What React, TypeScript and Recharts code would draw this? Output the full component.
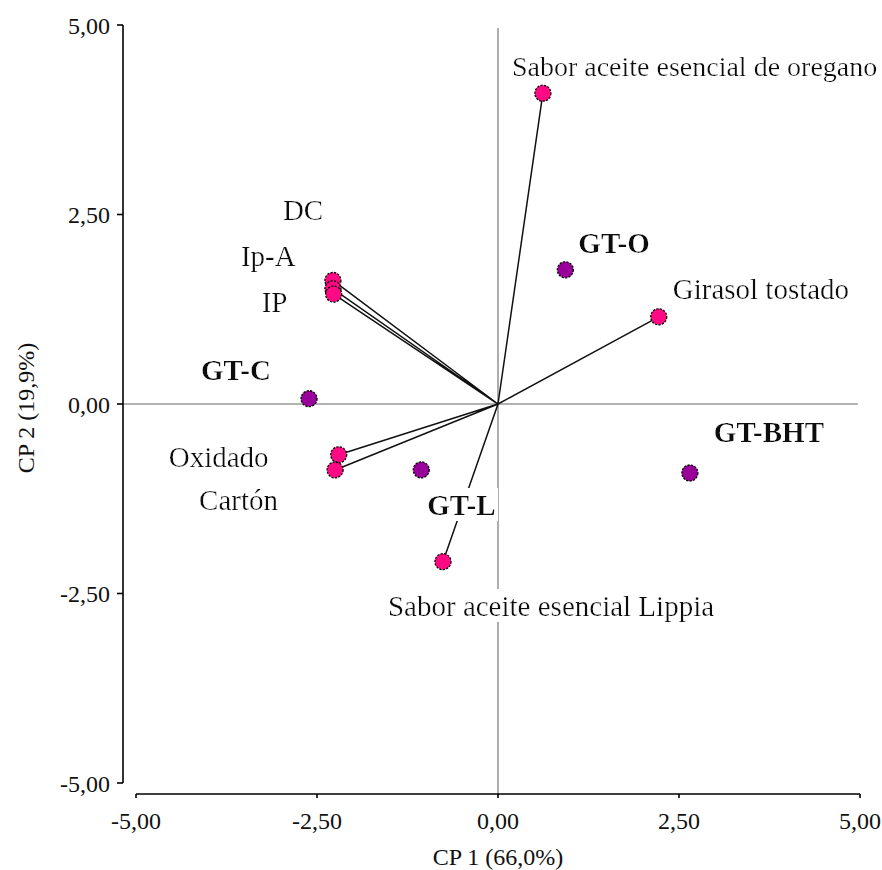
import React from 'react';
import { ScatterChart, Scatter, XAxis, YAxis, ReferenceLine, LabelList, Label } from 'recharts';

// Variables (vectors from the origin)
const variableNames = [
  'Sabor aceite esencial de oregano',
  'DC',
  'Ip-A',
  'IP',
  'Girasol tostado',
  'Oxidado',
  'Cartón',
  'Sabor aceite esencial Lippia',
];
const variableCP1 = [0.62, -2.28, -2.28, -2.27, 2.22, -2.2, -2.25, -0.76];
const variableCP2 = [4.1, 1.63, 1.52, 1.45, 1.15, -0.67, -0.87, -2.08];

// Treatments
const treatmentNames = ['GT-O', 'GT-C', 'GT-L', 'GT-BHT'];
const treatmentCP1 = [0.93, -2.61, -1.06, 2.65];
const treatmentCP2 = [1.77, 0.07, -0.87, -0.91];

const axisTicks = [-5, -2.5, 0, 2.5, 5];
const xTitle = 'CP 1 (66,0%)';
const yTitle = 'CP 2 (19,9%)';

// label placement relative to each marker centre (px)
const labelOffset: Record<string, [number, number]> = {
  'Sabor aceite esencial de oregano': [-31, -27],
  DC: [-50, -70],
  'Ip-A': [-92, -33],
  IP: [-72, 8],
  'Girasol tostado': [14, -28],
  Oxidado: [-170, 2],
  'Cartón': [-136, 30],
  'Sabor aceite esencial Lippia': [-55, 44],
  'GT-O': [13, -27],
  'GT-C': [-108, -29],
  'GT-L': [6, 35],
  'GT-BHT': [24, -41],
};
// the long label near the right edge is set a touch smaller so it fits
const labelSize: Record<string, number> = {
  'Sabor aceite esencial de oregano': 28,
};

const variables = variableNames.map((name, i) => ({ name, x: variableCP1[i], y: variableCP2[i] }));
const treatments = treatmentNames.map((name, i) => ({ name, x: treatmentCP1[i], y: treatmentCP2[i] }));
// origin -> point -> origin -> next point ... draws every vector with one joint line
const vectors = variables.flatMap((v) => [{ x: 0, y: 0 }, { x: v.x, y: v.y }]);

const serif = '"Liberation Serif", "Times New Roman", serif';
const fmt = (v: number) => v.toFixed(2).replace('.', ',');

const dot = (fill: string) => (props: any) => (
  <circle
    cx={props.cx}
    cy={props.cy}
    r={8}
    fill={fill}
    stroke="#000"
    strokeWidth={1.3}
    strokeDasharray="2.2 1.3"
  />
);

const noShape = () => <g />;

const renderLabel = (bold: boolean) => (props: any) => {
  const { viewBox, value } = props;
  const vb = viewBox ?? { x: props.x, y: props.y, width: props.width ?? 0, height: props.height ?? 0 };
  const cx = vb.x + (vb.width ?? 0) / 2;
  const cy = vb.y + (vb.height ?? 0) / 2;
  const [dx, dy] = labelOffset[value] ?? [10, -20];
  return (
    <text
      x={cx + dx}
      y={cy + dy}
      dominantBaseline="central"
      fontSize={labelSize[value] ?? 29}
      fontWeight={bold ? 700 : 400}
      fontFamily={serif}
      fill="#111"
      filter="url(#labelBg)"
    >
      {value}
    </text>
  );
};

export default function App() {
  return (
    <div style={{ position: 'absolute', left: 0, top: 0, width: 882, height: 870, background: '#fff', overflow: 'hidden' }}>
      <svg width={0} height={0} style={{ position: 'absolute' }}>
        <defs>
          <filter id="labelBg" x="-0.03" y="0" width="1.06" height="1">
            <feFlood floodColor="#ffffff" />
            <feMerge>
              <feMergeNode />
              <feMergeNode in="SourceGraphic" />
            </feMerge>
          </filter>
        </defs>
      </svg>
      <ScatterChart width={882} height={870} margin={{ top: 25, right: 22, bottom: 27, left: 36 }}>
        <XAxis
          type="number"
          dataKey="x"
          domain={[-5, 5]}
          ticks={axisTicks}
          tickFormatter={fmt}
          allowDataOverflow
          height={60}
          axisLine={{ stroke: '#000', strokeWidth: 1.6, transform: 'translate(0,11)' }}
          tickLine={{ stroke: '#000', strokeWidth: 1.6, transform: 'translate(0,11)' }}
          tickSize={4}
          tickMargin={25}
          tick={{ fill: '#111', fontSize: 24, fontFamily: serif }}
        >
          <Label
            content={(p: any) => {
              const vb = p.viewBox;
              return (
                <text
                  x={vb.x + vb.width / 2}
                  y={vb.y + 82}
                  textAnchor="middle"
                  fontSize={24}
                  fontFamily={serif}
                  fill="#111"
                >
                  {xTitle}
                </text>
              );
            }}
          />
        </XAxis>
        <YAxis
          type="number"
          dataKey="y"
          domain={[-5, 5]}
          ticks={axisTicks}
          tickFormatter={fmt}
          allowDataOverflow
          width={100}
          axisLine={{ stroke: '#000', strokeWidth: 1.6, transform: 'translate(-13,0)' }}
          tickLine={{ stroke: '#000', strokeWidth: 1.6, transform: 'translate(-13,0)' }}
          tickSize={6}
          tickMargin={20}
          tick={{ fill: '#111', fontSize: 24, fontFamily: serif }}
        >
          <Label
            content={(p: any) => {
              const vb = p.viewBox;
              const cx = vb.x - 10;
              const cy = vb.y + vb.height / 2 + 4;
              return (
                <text
                  x={cx}
                  y={cy}
                  transform={`rotate(-90 ${cx} ${cy})`}
                  textAnchor="middle"
                  dominantBaseline="central"
                  fontSize={24}
                  fontFamily={serif}
                  fill="#111"
                >
                  {yTitle}
                </text>
              );
            }}
          />
        </YAxis>
        <ReferenceLine
          segment={[{ x: -5.18, y: 0 }, { x: 4.97, y: 0 }]}
          ifOverflow="visible"
          stroke="#999"
          strokeWidth={1.6}
        />
        <ReferenceLine
          segment={[{ x: 0, y: 4.96 }, { x: 0, y: -5.15 }]}
          ifOverflow="visible"
          stroke="#999"
          strokeWidth={1.6}
        />
        <Scatter
          data={vectors}
          line={{ stroke: '#111', strokeWidth: 1.5 }}
          lineType="joint"
          shape={noShape}
          isAnimationActive={false}
        />
        <Scatter data={variables} shape={dot('#ff0a84')} isAnimationActive={false}>
          <LabelList dataKey="name" content={renderLabel(false)} />
        </Scatter>
        <Scatter data={treatments} shape={dot('#990099')} isAnimationActive={false}>
          <LabelList dataKey="name" content={renderLabel(true)} />
        </Scatter>
      </ScatterChart>
    </div>
  );
}
